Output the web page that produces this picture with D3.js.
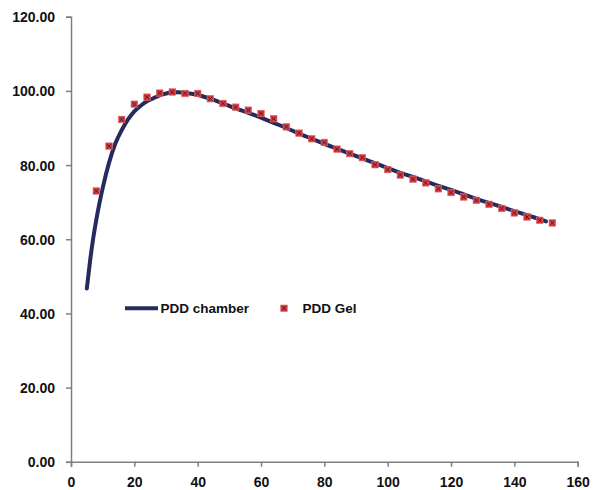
<!DOCTYPE html>
<html>
<head>
<meta charset="utf-8">
<script src="https://cdn.jsdelivr.net/npm/d3@7"></script>
<style>
  html, body { margin: 0; padding: 0; background: #fff; }
  svg text { font-family: "Liberation Sans", Arial, sans-serif; font-weight: bold; fill: #111; }
</style>
</head>
<body>
<svg id="chart" width="595" height="490"></svg>
<script>
// Data
const chamberDepth = [5, 6, 7, 8, 9, 10, 12, 14, 16, 18, 20, 22, 24, 26, 28, 30, 32, 34, 36, 38, 40, 44, 48, 52, 56, 60, 64, 68, 72, 76, 80, 84, 88, 92, 96, 100, 104, 108, 112, 116, 120, 124, 128, 132, 136, 140, 144, 148, 150];
const chamberDose = [46.7, 54, 60.2, 65.3, 69.8, 73.8, 80.6, 85.8, 89.4, 92.3, 94.5, 96.0, 97.2, 98.0, 98.8, 99.3, 99.6, 99.6, 99.4, 99.2, 98.9, 97.9, 96.6, 95.3, 94.1, 92.8, 91.4, 90.0, 88.5, 87.1, 85.7, 84.4, 83.1, 81.8, 80.5, 79.2, 77.9, 76.8, 75.6, 74.4, 73.3, 72.1, 70.9, 69.8, 68.7, 67.6, 66.5, 65.4, 64.8];
const gelDepth = [8, 12, 16, 20, 24, 28, 32, 36, 40, 44, 48, 52, 56, 60, 64, 68, 72, 76, 80, 84, 88, 92, 96, 100, 104, 108, 112, 116, 120, 124, 128, 132, 136, 140, 144, 148, 152];
const gelDose = [73.0, 85.1, 92.3, 96.4, 98.3, 99.4, 99.7, 99.3, 99.3, 97.9, 96.6, 95.6, 94.8, 93.9, 92.5, 90.3, 88.6, 87.1, 86.1, 84.3, 83.1, 82.0, 80.1, 78.8, 77.3, 76.2, 75.2, 73.6, 72.6, 71.4, 70.5, 69.4, 68.3, 67.1, 66.0, 65.1, 64.4];
const xTicks = [0, 20, 40, 60, 80, 100, 120, 140, 160];
const yTicks = [0, 20, 40, 60, 80, 100, 120];
const seriesNames = ["PDD chamber", "PDD Gel"];

const svg = d3.select("#chart");
const x = d3.scaleLinear().domain([0, 160]).range([71, 577.7]);
const y = d3.scaleLinear().domain([0, 120]).range([461.8, 16.7]);
const axisColor = "#7f7f7f";

// Y axis
const yAxis = svg.append("g").attr("transform", `translate(${x(0)},0)`)
  .call(d3.axisLeft(y).tickValues(yTicks).tickSize(5).tickPadding(11).tickFormat(d3.format(".2f")));
yAxis.select(".domain").attr("stroke", axisColor).attr("stroke-width", 1.5);
yAxis.selectAll(".tick line").attr("stroke", axisColor).attr("stroke-width", 1.5);
yAxis.selectAll("text").style("font-size", "14px").attr("dy", "0.36em");

// X axis
const xAxis = svg.append("g").attr("transform", `translate(0,${y(0)})`)
  .call(d3.axisBottom(x).tickValues(xTicks).tickSize(5).tickPadding(10).tickFormat(d3.format("d")));
xAxis.select(".domain").attr("stroke", axisColor).attr("stroke-width", 1.5);
xAxis.selectAll(".tick line").attr("stroke", axisColor).attr("stroke-width", 1.5);
xAxis.selectAll("text").style("font-size", "14px");

// Chamber line
const chamber = chamberDepth.map((d, i) => [d, chamberDose[i]]);
svg.append("path")
  .datum(chamber)
  .attr("fill", "none")
  .attr("stroke", "#262a5c")
  .attr("stroke-width", 4)
  .attr("stroke-linecap", "round")
  .attr("d", d3.line().x(d => x(d[0])).y(d => y(d[1])).curve(d3.curveMonotoneX));

// Gel markers
function marker(g, cx, cy) {
  const s = 3.3;
  g.append("rect").attr("x", cx - s).attr("y", cy - s).attr("width", 2 * s).attr("height", 2 * s)
    .attr("fill", "#d53b3b").attr("stroke", "#e46a6a").attr("stroke-width", 0.6);
  g.append("path").attr("d", `M${cx - s + 1.2},${cy - s + 1.2}L${cx + s - 1.2},${cy + s - 1.2}M${cx + s - 1.2},${cy - s + 1.2}L${cx - s + 1.2},${cy + s - 1.2}`)
    .attr("stroke", "#4a1830").attr("stroke-width", 0.9);
}
const gm = svg.append("g");
gelDepth.forEach((d, i) => marker(gm, x(d), y(gelDose[i])));

// Legend
const lg = svg.append("g");
lg.append("line").attr("x1", 125).attr("x2", 158).attr("y1", 308.3).attr("y2", 308.3)
  .attr("stroke", "#262a5c").attr("stroke-width", 4);
lg.append("text").attr("x", 160.5).attr("y", 308.3).attr("dy", "0.36em").style("font-size", "13.5px").text(seriesNames[0]);
marker(lg, 284, 308.3);
lg.append("text").attr("x", 302.5).attr("y", 308.3).attr("dy", "0.36em").style("font-size", "13.5px").text(seriesNames[1]);
</script>
</body>
</html>
